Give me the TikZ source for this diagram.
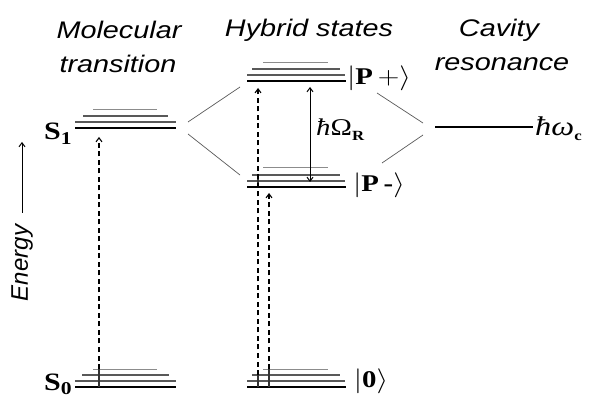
\documentclass[tikz,border=0pt]{standalone}
\usepackage{fontspec}
\setmainfont{Liberation Serif}
\newfontfamily\headfont{Liberation Sans}
\usetikzlibrary{arrows.meta}
\newcommand{\hs}[1]{\scalebox{1.2}[1]{#1}}
\newcommand{\lowsub}[2]{\raisebox{#1}{\fontsize{14}{14}\selectfont\bfseries #2}}
\begin{document}
\begin{tikzpicture}[x=1pt,y=-1pt,
  toplvl/.style={line width=1pt, black!45},
  thinlvl/.style={line width=1.1pt, black!65},
  thicklvl/.style={line width=2.2pt, black},
  tick/.style={line width=1.1pt, black!80},
  link/.style={line width=0.7pt, black!65},
  exc/.style={line width=1.1pt, dash pattern=on 5pt off 3.5pt, -{Straight Barb[length=4pt,width=6pt]}},
  rabi/.style={line width=1pt, {Straight Barb[length=4pt,width=6pt]}-{Straight Barb[length=4pt,width=6pt]}},
  head/.style={inner sep=0pt, font=\headfont\itshape\fontsize{24}{24}\selectfont},
  lab/.style={inner sep=0pt, font=\fontsize{24}{24}\selectfont}
]
\useasboundingbox (0,0) rectangle (590,401);

% headings
\node[head] (h1) at (119,30) {\hs{Molecular}};
\node[head] (h2) at (118,64) {\hs{transition}};
\node[head] (h3) at (309,30) {\hs{Hybrid states}};
\node[head] (h4) at (499,30) {\hs{Cavity}};
\node[head] (h5) at (502,64) {\hs{resonance}};

% energy axis
\node[head, rotate=90] (energy) at (22,263) {Energy};
\coordinate (ebot) at (22,213);
\coordinate (etop) at (22,142);
\draw[line width=1pt, -{Straight Barb[length=4pt,width=6pt]}] (ebot) -- (etop);

% molecular S1
\draw[toplvl]  (93,110) -- (157,110);
\draw[thinlvl] (83,116) -- (168,116);
\draw[thinlvl] (75,122) -- (176,122);
\draw[thicklvl] (75,128) -- (176,128);
\coordinate (s1top) at (99,137);
% molecular S0
\draw[toplvl]  (93,369) -- (157,369);
\draw[thinlvl] (82,375) -- (169,375);
\draw[thinlvl] (75,381) -- (176,381);
\draw[thicklvl] (75,387) -- (176,387);
\coordinate (s0a) at (99,369);
\coordinate (s0b) at (99,387);
\draw[tick] (s0a) -- (s0b);
\draw[exc] (s0a) -- (s1top);

\node[lab, anchor=base west] (S1) at (44,140) {\hs{\fontsize{25}{25}\selectfont\bfseries S\raisebox{-5pt}{\fontsize{18}{18}\selectfont 1}}};
\node[lab, anchor=base west] (S0) at (44,391) {\hs{\fontsize{25}{25}\selectfont\bfseries S\raisebox{-4pt}{\fontsize{18}{18}\selectfont 0}}};

% hybrid P+
\draw[toplvl]  (263,63) -- (328,63);
\draw[thinlvl] (252,69) -- (340,69);
\draw[thinlvl] (247,75) -- (345,75);
\draw[thicklvl] (247,81) -- (346,81);
% hybrid P-
\draw[toplvl]  (263,168) -- (328,168);
\draw[thinlvl] (252,175) -- (340,175);
\draw[thinlvl] (247,181) -- (345,181);
\draw[thicklvl] (247,187) -- (346,187);
% ground |0>
\draw[toplvl]  (263,369) -- (328,369);
\draw[thinlvl] (252,375) -- (340,375);
\draw[thinlvl] (247,381) -- (345,381);
\draw[thicklvl] (247,387) -- (346,387);

\coordinate (ga) at (258,375);
\coordinate (gb) at (258,387);
\coordinate (gc) at (269,369);
\coordinate (gd) at (269,387);
\coordinate (ppTop) at (258,88);
\coordinate (pmTop) at (269,193);
\coordinate (pma) at (258,175);
\coordinate (pmb) at (258,187);
\draw[tick] (ga) -- (gb);
\draw[tick] (gc) -- (gd);
\draw[tick] (pma) -- (pmb);
\draw[exc] (ga) -- (ppTop);
\draw[exc] (gc) -- (pmTop);

% Rabi splitting
\coordinate (ra) at (310,87);
\coordinate (rb) at (310,182);
\draw[rabi] (ra) -- (rb);
\node[lab, anchor=west] (omR) at (316,130) {\hs{\itshape ħ\upshape Ω\lowsub{-5pt}{R}}};

% state labels
\node[lab] (Pp) at (379,78) {\hs{$|$\textbf{P}\,$+\rangle$}};
\node[lab] (Pm) at (379,185) {\hs{$|$\textbf{P\,-}$\rangle$}};
\node[lab] (G0) at (371,381) {\hs{$|$\textbf{0}$\rangle$}};

% cavity
\coordinate (ca) at (435,127);
\coordinate (cb) at (533,127);
\draw[line width=1.3pt] (ca) -- (cb);
\node[lab, anchor=west, font=\fontsize{27}{27}\selectfont] (hw) at (535,129) {\hs{\itshape ħω\upshape\lowsub{-5pt}{c}}};

% coupling lines
\coordinate (m1) at (188,122);
\coordinate (m2) at (188,134);
\coordinate (p1) at (240,87);
\coordinate (p2) at (240,175);
\coordinate (q1) at (377,93);
\coordinate (q2) at (382,163);
\coordinate (c1) at (423,123);
\coordinate (c2) at (423,135);
\draw[link] (m1) -- (p1);
\draw[link] (m2) -- (p2);
\draw[link] (q1) -- (c1);
\draw[link] (q2) -- (c2);
\end{tikzpicture}
\end{document}
